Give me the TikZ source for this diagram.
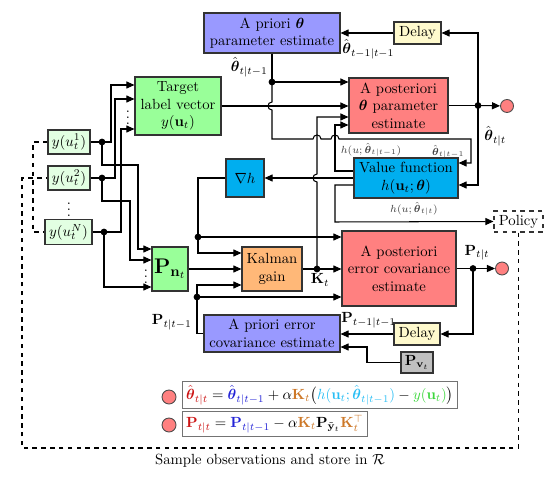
\documentclass[tikz,border=0pt]{standalone}
\usepackage{amsmath,amssymb}
\usetikzlibrary{arrows.meta}

\newlength{\pxu}
\setlength{\pxu}{0.68pt}
\newcommand{\thhat}{\hat{\boldsymbol{\theta}}}

\definecolor{prioricol}{RGB}{153,153,255}
\definecolor{postcol}{RGB}{255,128,128}
\definecolor{tgtcol}{RGB}{153,255,153}
\definecolor{obscol}{RGB}{226,255,226}
\definecolor{delaycol}{RGB}{255,250,205}
\definecolor{valcol}{RGB}{0,174,239}
\definecolor{kalcol}{RGB}{255,184,120}
\definecolor{pvcol}{RGB}{192,192,192}
\definecolor{eqred}{RGB}{204,20,20}
\definecolor{eqblue}{RGB}{35,35,215}
\definecolor{eqorange}{RGB}{205,120,40}
\definecolor{eqcyan}{RGB}{40,190,245}
\definecolor{eqgreen}{RGB}{60,215,60}

\begin{document}
\begin{tikzpicture}[x=\pxu, y=-\pxu,
    box/.style={draw=black!80, line width=0.75pt, align=center, inner sep=1pt},
    arr/.style={-{Triangle[length=5.5pt,width=4.8pt]}, line width=0.7pt},
    wire/.style={line width=0.7pt},
    outc/.style={circle, draw=black!70, line width=0.6pt, fill=postcol, minimum size=13\pxu, inner sep=0pt},
    eqbox/.style={draw=black!55, line width=0.7pt, fill=white, inner sep=2.5pt, anchor=west},
    lbl/.style={font=\scriptsize, text=black!75, inner sep=1pt}]
    \useasboundingbox (0,0) rectangle (556,485);

    % Parameter branch
    \node[box, fill=prioricol, minimum width=136\pxu, minimum height=40\pxu] (aprth) at (272,33)
        {A priori $\boldsymbol{\theta}$\\parameter estimate};
    \node[box, fill=delaycol, minimum width=47\pxu, minimum height=22\pxu] (dly1) at (417.5,33) {Delay};
    \node[box, fill=postcol, minimum width=99\pxu, minimum height=55\pxu] (postth) at (398.5,105.5)
        {A posteriori\\$\boldsymbol{\theta}$ parameter\\estimate};
    \node[box, fill=tgtcol, minimum width=86\pxu, minimum height=58\pxu] (tgt) at (178,106)
        {Target\\label vector\\$y(\mathbf{u}_t)$};
    \node[box, fill=valcol, minimum width=104\pxu, minimum height=40\pxu] (vf) at (406,178)
        {Value function\\$h(\mathbf{u}_t;\boldsymbol{\theta})$};
    \node[box, fill=valcol, minimum width=38\pxu, minimum height=38\pxu] (nabla) at (245,178) {$\nabla h$};
    \node[box, dashed, minimum width=49\pxu, minimum height=21\pxu] (policy) at (518.5,221.5) {Policy};

    % Observations
    \node[box, fill=obscol, minimum width=42\pxu, minimum height=24\pxu] (y1) at (69,142) {$y(u_t^1)$};
    \node[box, fill=obscol, minimum width=42\pxu, minimum height=24\pxu] (y2) at (69,178) {$y(u_t^2)$};
    \node[box, fill=obscol, minimum width=47\pxu, minimum height=25\pxu] (yN) at (68.5,232) {$y(u_t^N)$};
    \node[inner sep=0pt] (vd1) at (69,205) {$\vdots$};
    \node[inner sep=0pt] (vd2) at (128,113) {$\vdots$};
    \node[inner sep=0pt] (vd3) at (146,272) {$\vdots$};

    % Covariance branch
    \node[box, fill=tgtcol, minimum width=36\pxu, minimum height=44\pxu, font=\Large] (Pn) at (170,269)
        {$\mathbf{P}_{\mathbf{n}_t}$};
    \node[box, fill=kalcol, minimum width=60\pxu, minimum height=44\pxu] (kal) at (272,269) {Kalman\\gain};
    \node[box, fill=postcol, minimum width=114\pxu, minimum height=75\pxu] (postcov) at (399,268.5)
        {A posteriori\\error covariance\\estimate};
    \node[box, fill=prioricol, minimum width=136\pxu, minimum height=37\pxu] (aprcov) at (272,333.5)
        {A priori error\\covariance estimate};
    \node[box, fill=delaycol, minimum width=46\pxu, minimum height=22\pxu] (dly2) at (417,334) {Delay};
    \node[box, fill=pvcol, minimum width=32\pxu, minimum height=21\pxu] (pv) at (417,362.5)
        {$\mathbf{P}_{\mathbf{v}_t}$};

    % Outputs
    \node[outc] (out1) at (507,106) {};
    \node[outc] (out2) at (502,268.5) {};

    % Theta loop
    \draw[arr] (dly1.west) -- (aprth.east);
    \node[anchor=west, inner sep=0pt] (lthold) at (342,49) {$\thhat_{t-1|t-1}$};
    \coordinate (thdot) at (478,105.5);
    \draw[wire] (postth.east) -- (thdot);
    \fill (thdot) circle (2.3pt);
    \draw[arr] (thdot) -- (out1);
    \draw[arr] (thdot) |- (dly1.east);
    \draw[arr] (thdot) |- (vf.east |- 0,185);
    \node[anchor=west, inner sep=0pt] (lthnew) at (484,136) {$\thhat_{t|t}$};

    \coordinate (prdot) at (272,82);
    \draw[wire] (aprth.south) -- (prdot);
    \fill (prdot) circle (2.3pt);
    \node[anchor=east, inner sep=0pt] (lthpr) at (268,67) {$\thhat_{t|t-1}$};
    \draw[arr] (prdot) -- (postth.west |- prdot);
    \draw[arr] (prdot) -- (272,102) .. controls (266.7,102) and (266.7,110) .. (272,110)
        -- (272,139) -- (313,139) .. controls (313,133.7) and (321,133.7) .. (321,139)
        -- (331,139) .. controls (331,133.7) and (339,133.7) .. (339,139)
        -- (471,139) |- (vf.east |- 0,163);
    \node[lbl, anchor=east] (lthvf) at (466,152) {$\thhat_{t|t-1}$};

    % Target label vector
    \draw[arr] (tgt.east) -- (postth.west |- tgt.east);
    \coordinate (d1) at (102,142);
    \coordinate (d2) at (102,178);
    \coordinate (dN) at (104,232);
    \draw[wire] (y1.east) -- (d1);
    \draw[wire] (y2.east) -- (d2);
    \draw[wire] (yN.east) -- (dN);
    \foreach \d in {d1,d2,dN} \fill (\d) circle (2.3pt);
    \draw[arr] (d1) -- (111,142) |- (tgt.west |- 0,85);
    \draw[arr] (d2) -- (115,178) |- (tgt.west |- 0,99);
    \draw[arr] (dN) -- (121,232) |- (tgt.west |- 0,129);
    \draw[arr] (d1) |- (138,165) |- (Pn.west |- 0,249);
    \draw[arr] (d2) |- (130,201) |- (Pn.west |- 0,260);
    \draw[arr] (dN) |- (Pn.west |- 0,287);

    % Value function outputs
    \draw[arr] (vf.west) -- (nabla.east);
    \draw[arr] (vf.west |- 0,171) -| (335,125) -- (postth.west |- 0,125);
    \node[lbl, anchor=west] (lhpr) at (339,150) {$h(u;\thhat_{t|t-1})$};
    \draw[arr] (vf.west |- 0,185) -| (335,222) -- (policy.west);
    \node[lbl] (lhnew) at (414,209) {$h(u;\thhat_{t|t})$};

    % Gradient into Kalman gain
    \coordinate (ndot) at (198,237);
    \draw[wire] (nabla.west) -| (ndot);
    \fill (ndot) circle (2.3pt);
    \draw[arr] (ndot) -- (postcov.west |- ndot);
    \draw[arr] (ndot) |- (kal.west |- 0,253);
    \draw[arr] (Pn.east) -- (kal.west);

    % Kalman gain output
    \coordinate (kdot) at (317,269);
    \draw[arr] (kal.east) -- (postcov.west |- kal.east);
    \fill (kdot) circle (2.3pt);
    \node[anchor=north, inner sep=1pt] (lk) at (320,272) {$\mathbf{K}_t$};
    \draw[arr] (kdot) -- (317,182) .. controls (311.7,182) and (311.7,174) .. (317,174)
        -- (317,117) -- (postth.west |- 0,117);

    % Covariance loop
    \coordinate (pdot) at (473,268.5);
    \draw[wire] (postcov.east) -- (pdot);
    \fill (pdot) circle (2.3pt);
    \draw[arr] (pdot) -- (out2);
    \draw[arr] (pdot) |- (dly2.east);
    \node[anchor=south, inner sep=1pt] (lpnew) at (477,262) {$\mathbf{P}_{t|t}$};
    \draw[arr] (dly2.west) -- (aprcov.east |- dly2.west);
    \node[anchor=west, inner sep=0pt] (lpold) at (341,320) {$\mathbf{P}_{t-1|t-1}$};
    \draw[arr] (pv.west) -| (367,347) -- (aprcov.east |- 0,347);

    \coordinate (pcdot) at (197,297);
    \draw[wire] (aprcov.west) -| (pcdot);
    \fill (pcdot) circle (2.3pt);
    \draw[arr] (pcdot) -- (postcov.west |- pcdot);
    \draw[arr] (pcdot) |- (kal.west |- 0,285);
    \node[anchor=east, inner sep=0pt] (lppr) at (192,322) {$\mathbf{P}_{t|t-1}$};

    % Sampling loop
    \draw[wire, dashed] (y1.west) -- (33,142) |- (yN.west);
    \draw[wire, dashed] (policy.south) |- (22,448) |- (y2.west);
    \node (lsample) at (270,461) {Sample observations and store in $\mathcal{R}$};

    % Update equations
    \node[outc, minimum size=14\pxu] (b1) at (169,397) {};
    \node[outc, minimum size=14\pxu] (b2) at (169,425) {};
    \node[eqbox] (eq1) at (182,395)
        {$\textcolor{eqred}{\thhat_{t|t}} = \textcolor{eqblue}{\thhat_{t|t-1}} + \alpha\textcolor{eqorange}{\mathbf{K}_t}\bigl(\textcolor{eqcyan}{h(\mathbf{u}_t;\thhat_{t|t-1})} - \textcolor{eqgreen}{y(\mathbf{u}_t)}\bigr)$};
    \node[eqbox] (eq2) at (182,424)
        {$\textcolor{eqred}{\mathbf{P}_{t|t}} = \textcolor{eqblue}{\mathbf{P}_{t|t-1}} - \alpha\textcolor{eqorange}{\mathbf{K}_t}\mathbf{P}_{\tilde{\mathbf{y}}_t}\textcolor{eqorange}{\mathbf{K}_t^\top}$};
\end{tikzpicture}
\end{document}
